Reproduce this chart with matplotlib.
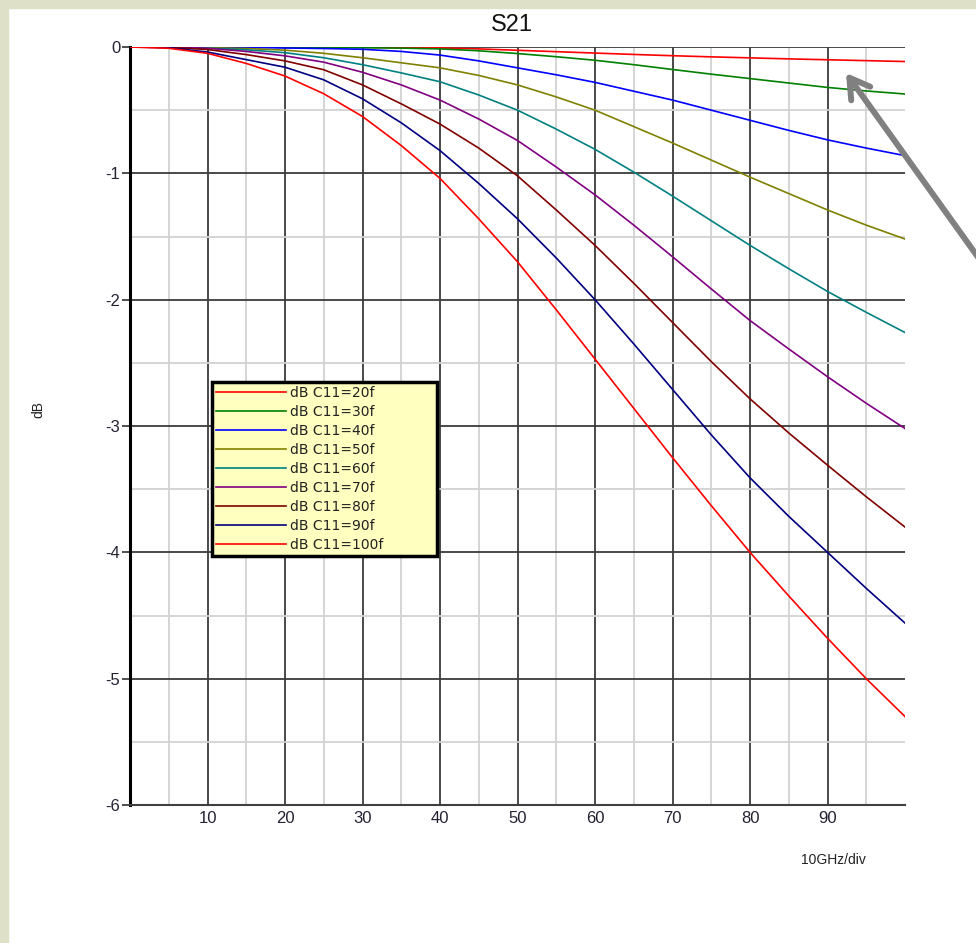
import matplotlib
matplotlib.use("Agg")
import matplotlib.pyplot as plt
from matplotlib.patches import Rectangle
from matplotlib.ticker import FixedLocator

plt.rcParams['font.family'] = ['Liberation Sans', 'DejaVu Sans']
plt.rcParams['axes.unicode_minus'] = False

# ---- data ----
freq = [0, 5, 10, 15, 20, 25, 30, 35, 40, 45, 50, 55, 60, 65, 70, 75, 80, 85, 90, 95, 100]
labels = ["dB C11=20f", "dB C11=30f", "dB C11=40f", "dB C11=50f", "dB C11=60f",
          "dB C11=70f", "dB C11=80f", "dB C11=90f", "dB C11=100f"]
c20 = [0, 0, 0, 0, 0, 0, -0.002, -0.004, -0.007, -0.015, -0.026, -0.037, -0.048, -0.059,
       -0.069, -0.078, -0.086, -0.094, -0.101, -0.108, -0.115]
c30 = [0, 0, 0, 0, -0.002, -0.004, -0.006, -0.009, -0.015, -0.03, -0.052, -0.077, -0.105,
       -0.14, -0.178, -0.215, -0.25, -0.285, -0.32, -0.348, -0.372]
c40 = [0, 0, 0, -0.004, -0.008, -0.012, -0.018, -0.035, -0.064, -0.11, -0.165, -0.22, -0.28,
       -0.35, -0.42, -0.50, -0.58, -0.66, -0.735, -0.80, -0.86]
c50 = [0, 0, -0.005, -0.012, -0.025, -0.05, -0.085, -0.125, -0.165, -0.225, -0.30, -0.395,
       -0.50, -0.63, -0.76, -0.895, -1.03, -1.16, -1.29, -1.41, -1.52]
c60 = [0, 0, -0.008, -0.022, -0.045, -0.085, -0.14, -0.205, -0.275, -0.38, -0.50, -0.65,
       -0.81, -0.99, -1.18, -1.375, -1.57, -1.755, -1.935, -2.10, -2.26]
c70 = [0, 0, -0.01, -0.035, -0.07, -0.12, -0.20, -0.30, -0.42, -0.57, -0.74, -0.95,
       -1.17, -1.41, -1.66, -1.915, -2.165, -2.39, -2.61, -2.82, -3.02]
c80 = [0, -0.003, -0.02, -0.06, -0.11, -0.18, -0.30, -0.45, -0.61, -0.80, -1.02, -1.29,
       -1.57, -1.87, -2.18, -2.49, -2.785, -3.055, -3.31, -3.56, -3.80]
c90 = [0, -0.005, -0.04, -0.10, -0.16, -0.26, -0.41, -0.60, -0.82, -1.08, -1.36, -1.67,
       -2.00, -2.35, -2.71, -3.07, -3.41, -3.715, -4.00, -4.285, -4.56]
c100 = [0, -0.01, -0.05, -0.13, -0.23, -0.37, -0.55, -0.78, -1.04, -1.36, -1.70, -2.08,
        -2.47, -2.86, -3.25, -3.63, -4.00, -4.345, -4.68, -5.00, -5.30]
series = [c20, c30, c40, c50, c60, c70, c80, c90, c100]
colors = ["#ff0000", "#008000", "#0000ff", "#808000", "#008080",
          "#800080", "#800000", "#000080", "#ff0000"]
xticks = [10, 20, 30, 40, 50, 60, 70, 80, 90]
yticks = [0, -1, -2, -3, -4, -5, -6]

W, H = 976, 943
fig = plt.figure(figsize=(W / 100, H / 100), dpi=100, facecolor="white")

# beige frame strips (left and top)
beige = "#dfe0c8"
fig.patches.append(Rectangle((0, 0), 8 / W, 1, transform=fig.transFigure, color=beige, zorder=0))
fig.patches.append(Rectangle((0, 1 - 8 / H), 1, 8 / H, transform=fig.transFigure, color=beige, zorder=0))

ax = fig.add_axes([130 / W, 1 - 805 / H, 775 / W, 758 / H])
ax.set_facecolor("white")
ax.set_xlim(0, 100)
ax.set_ylim(-6, 0)

# grids
ax.xaxis.set_major_locator(FixedLocator(xticks))
ax.yaxis.set_major_locator(FixedLocator(yticks))
ax.xaxis.set_minor_locator(FixedLocator([5, 15, 25, 35, 45, 55, 65, 75, 85, 95]))
ax.yaxis.set_minor_locator(FixedLocator([-0.5, -1.5, -2.5, -3.5, -4.5, -5.5]))
ax.grid(which="minor", color="#d2d2d2", linewidth=1.3, zorder=1)
ax.grid(which="major", color="#3c3c3c", linewidth=1.3, zorder=1.5)
ax.set_axisbelow(True)

ax.set_xticklabels([str(v) for v in xticks])
ax.set_yticklabels([str(v) for v in yticks])
ax.tick_params(axis="x", which="major", length=0, pad=4, labelsize=12, labelcolor="#222233")
ax.tick_params(axis="y", which="major", length=6, width=1.3, color="#404040", pad=1,
               labelsize=12, labelcolor="#222233")
ax.tick_params(which="minor", length=0)

for s in ["top", "right"]:
    ax.spines[s].set_visible(False)
ax.spines["left"].set_linewidth(2.2)
ax.spines["left"].set_color("black")
ax.spines["bottom"].set_linewidth(1.5)
ax.spines["bottom"].set_color("#404040")

for vals, c, lab in zip(series, colors, labels):
    ax.plot(freq, vals, color=c, linewidth=1.2, label=lab, zorder=3)

x0 = 82 / 775
x1 = 307 / 775
ytop = (805 - 382) / 758
ybot = (805 - 560) / 758
leg = ax.legend(loc="upper left", bbox_to_anchor=(x0, ybot, x1 - x0, ytop - ybot),
                mode="expand", prop=dict(family="DejaVu Sans", size=10),
                frameon=True, fancybox=False, framealpha=1, facecolor="#ffffc0",
                edgecolor="black", handlelength=5.0, handletextpad=0.35,
                labelspacing=0.36, borderpad=0.3, borderaxespad=0)
leg.get_frame().set_linewidth(2.5)
leg.set_zorder(5)
for t in leg.get_texts():
    t.set_color("#222222")

fig.text(512 / W, 1 - 25 / H, "S21", ha="center", va="center", fontsize=17, color="#111111")
fig.text(38 / W, 1 - 410 / H, "dB", ha="center", va="center", rotation=90, fontsize=10, color="#222222")
fig.text(833 / W, 1 - 860 / H, "10GHz/div", ha="center", va="center", fontsize=10, color="#222222")

# grey annotation arrow
ax.annotate("", xy=(846 / W, 1 - 73 / H), xycoords="figure fraction",
            xytext=(1.01, 1 - 268 / H), textcoords="figure fraction",
            arrowprops=dict(arrowstyle="->,head_length=0.5,head_width=0.3",
                            color="#808080", linewidth=4.3, mutation_scale=28,
                            shrinkA=0, shrinkB=0),
            annotation_clip=False, zorder=6)

fig.savefig("out.png", dpi=100, facecolor="white")
